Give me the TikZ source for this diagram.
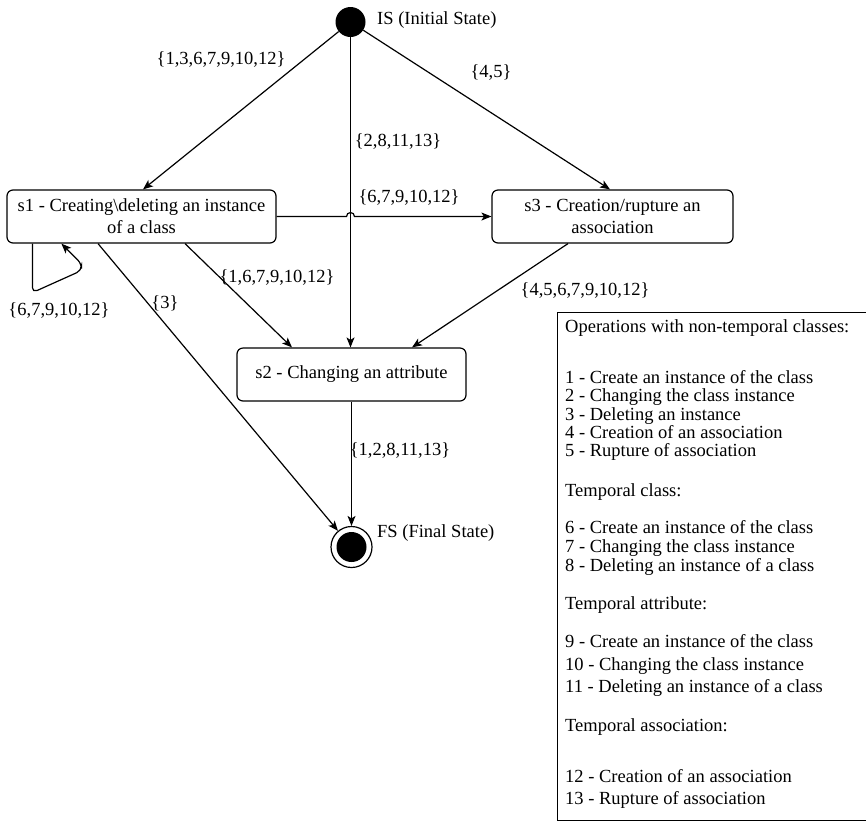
\documentclass[tikz,border=0pt]{standalone}
\usepackage{fontspec}
\setmainfont{Liberation Serif}
\usetikzlibrary{arrows.meta,calc}

\begin{document}
\begin{tikzpicture}[x=1pt,y=-1pt,
  every node/.style={font=\fontsize{18.5}{22}\selectfont, inner sep=0pt},
  state/.style={draw, rounded corners=6pt, line width=1.2pt, align=center, minimum height=53pt},
  flow/.style={-{Stealth[length=10pt,width=8pt,inset=2.5pt]}, line width=1.2pt},
  legendline/.style={anchor=west, align=left}
]
\useasboundingbox (0,0) rectangle (866,823);
\fill[white] (0,0) rectangle (866,823);

% initial and final pseudo-states
\node[circle, fill=black, minimum size=30pt] (IS) at (350.5,22) {};
\node[anchor=west] (ISlabel) at (377,20) {IS (Initial State)};

\node[circle, draw, line width=1.2pt, minimum size=41pt] (FS) at (351.5,547) {};
\node[circle, fill=black, minimum size=30pt] (FSdot) at (FS.center) {};
\node[anchor=west] (FSlabel) at (377,533) {FS (Final State)};

% states
\node[state, minimum width=269pt] (s1) at (141.5,216.5) {s1 - Creating\textbackslash deleting an instance\\of a class};
\node[state, minimum width=241pt] (s3) at (612.5,216.5) {s3 - Creation/rupture an\\association};
\node[state, minimum width=229pt] (s2) at (351.5,374.5) {s2 - Changing an attribute};

% transitions
\draw[flow] (IS) -- ([xshift=1.5pt]s1.north);
\draw[flow] (IS) -- ([xshift=-2.5pt]s3.north);
\draw[flow] (IS.south) -- (IS.south |- s2.north);
\draw[flow] (s1.east) -- ($(IS.center |- s1.east)+(-4,0)$)
  arc[start angle=180, end angle=360, radius=4] -- (s3.west);
\draw[flow] ([xshift=43.5pt]s1.south) -- ([xshift=-59.5pt]s2.north);
\draw[flow] ([xshift=-44.5pt]s3.south) -- ([xshift=60.5pt]s2.north);
\draw[flow] ([xshift=-43.5pt]s1.south) -- (FS);
\draw[flow] (s2.south) -- (FS);
\draw[flow, rounded corners=5pt] ([xshift=26pt]s1.south west) -- ++(0,49) -- ++(49,-22)
  -- ++(0,-7) -- ([xshift=55pt]s1.south west);

% transition labels
\node (t1) at (221,59) {\{1,3,6,7,9,10,12\}};
\node (t2) at (398,141) {\{2,8,11,13\}};
\node (t3) at (491,72) {\{4,5\}};
\node (t4) at (409,197) {\{6,7,9,10,12\}};
\node (t5) at (277,277) {\{1,6,7,9,10,12\}};
\node (t6) at (165,303) {\{3\}};
\node (t7) at (585,290) {\{4,5,6,7,9,10,12\}};
\node (t8) at (400,450) {\{1,2,8,11,13\}};
\node (t9) at (59,310) {\{6,7,9,10,12\}};

% legend
\draw[line width=1pt] (557,312) rectangle (880,820);
\node[legendline] (g0) at (565,328) {Operations with non-temporal classes:};
\node[legendline, font=\fontsize{18.5}{18.25}\selectfont] (g1) at (565,415.5)
  {1 - Create an instance of the class\\2 - Changing the class instance\\3 - Deleting an instance\\4 - Creation of an association\\5 - Rupture of association};
\node[legendline] (g2) at (565,492) {Temporal class:};
\node[legendline, font=\fontsize{18.5}{19}\selectfont] (g3) at (565,548)
  {6 - Create an instance of the class\\7 - Changing the class instance\\8 - Deleting an instance of a class};
\node[legendline] (g4) at (565,605) {Temporal attribute:};
\node[legendline, font=\fontsize{18.5}{22.5}\selectfont] (g5) at (565,665.5)
  {9 - Create an instance of the class\\10 - Changing the class instance\\11 - Deleting an instance of a class};
\node[legendline] (g6) at (565,727) {Temporal association:};
\node[legendline, font=\fontsize{18.5}{22}\selectfont] (g7) at (565,789)
  {12 - Creation of an association\\13 - Rupture of association};
\end{tikzpicture}
\end{document}
